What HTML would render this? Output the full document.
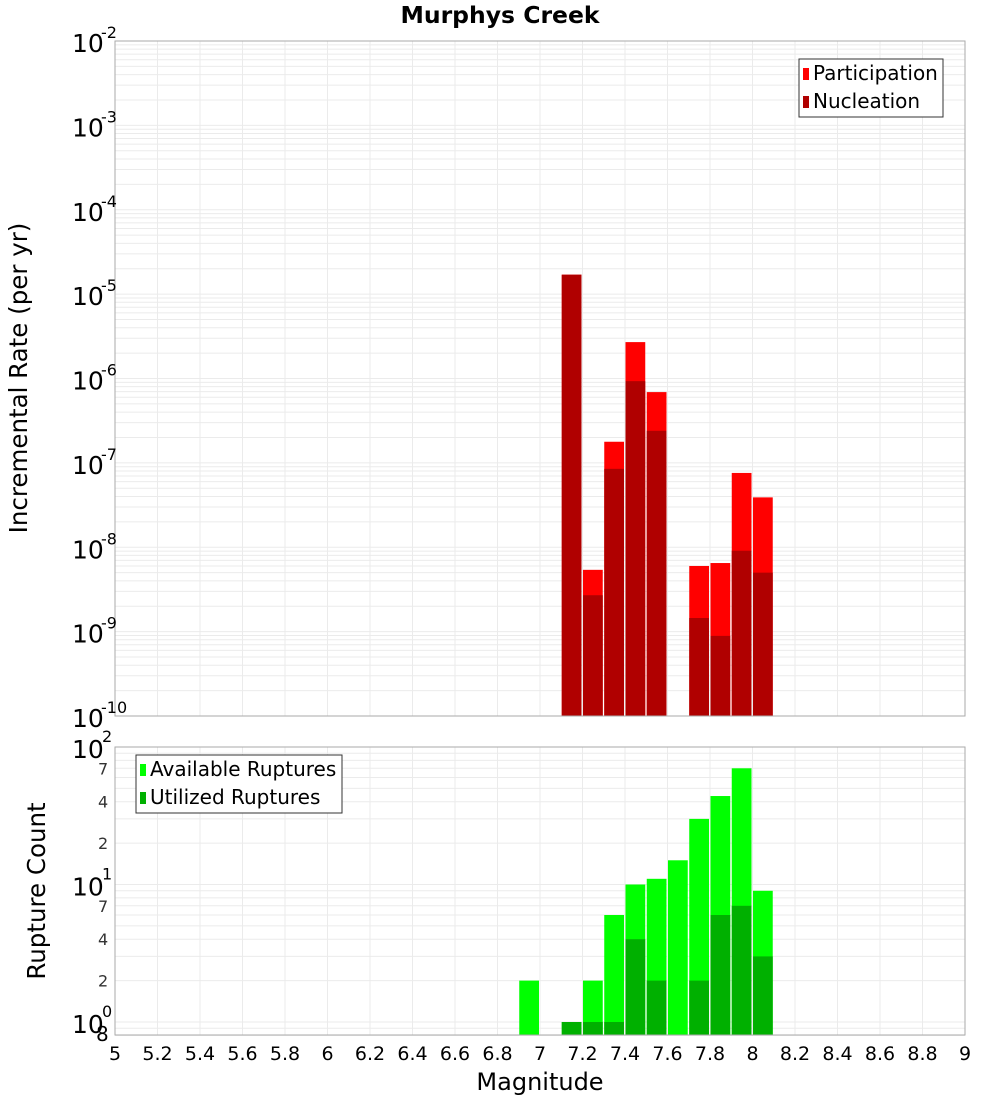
<!DOCTYPE html>
<html><head><meta charset="utf-8">
<style>
body{margin:0;background:#fff;font-family:"DejaVu Sans","Liberation Sans",sans-serif;}
svg text{font-family:"DejaVu Sans","Liberation Sans",sans-serif;}
</style></head>
<body>
<svg id="chart" width="1000" height="1100" xmlns="http://www.w3.org/2000/svg">
<text x="500" y="23" text-anchor="middle" font-size="23.5" font-weight="bold">Murphys Creek</text>
<text transform="translate(27,378) rotate(-90)" text-anchor="middle" font-size="24.5">Incremental Rate (per yr)</text>
<text transform="translate(45,891) rotate(-90)" text-anchor="middle" font-size="24.5">Rupture Count</text>
<text x="540" y="1090" text-anchor="middle" font-size="24">Magnitude</text>
<g id="topPlot"></g>
<g id="botPlot"></g>
</svg>
<script>
const mags = [7.1,7.2,7.3,7.4,7.5,7.7,7.8,7.9,8.0];
const participation = [1.7e-5,5.4e-9,1.78e-7,2.7e-6,6.9e-7,6e-9,6.5e-9,7.6e-8,3.9e-8];
const nucleation = [1.7e-5,2.7e-9,8.5e-8,9.3e-7,2.4e-7,1.45e-9,8.9e-10,9.1e-9,5e-9];
const countMags = [6.9,7.1,7.2,7.3,7.4,7.5,7.6,7.7,7.8,7.9,8.0];
const available = [2,1,2,6,10,11,15,30,44,70,9];
const utilized = [0,1,1,1,4,2,0,2,6,7,3];
const xTicks = [5,5.2,5.4,5.6,5.8,6,6.2,6.4,6.6,6.8,7,7.2,7.4,7.6,7.8,8,8.2,8.4,8.6,8.8,9];

const NS="http://www.w3.org/2000/svg";
const L=115,R=965;
const x=m=>L+(m-5)*(R-L)/4;
const T1=41,B1=716, yTop=v=>T1+(-2-Math.log10(v))*(B1-T1)/8;
const T2=747,B2=1035, yBot=v=>T2+(2-Math.log10(v))*137.5;
function el(p,tag,a){const e=document.createElementNS(NS,tag);for(const k in a)e.setAttribute(k,a[k]);p.appendChild(e);return e;}
const topG=document.getElementById('topPlot'), botG=document.getElementById('botPlot');

for(let d=-10;d<-2;d++)for(let k=1;k<10;k++){const yy=yTop(k*Math.pow(10,d));
 const g=el(topG,'line',{x1:L,x2:R,y1:yy,y2:yy,stroke:'#ebebeb','stroke-width':1});
 
 }
for(let d=-1;d<2;d++)for(let k=1;k<10;k++){const v=k*Math.pow(10,d);if(v<0.8)continue;const yy=yBot(v);
 const g=el(botG,'line',{x1:L,x2:R,y1:yy,y2:yy,stroke:'#ebebeb','stroke-width':1});
 
 }
xTicks.forEach(t=>{[[topG,T1,B1],[botG,T2,B2]].forEach(([p,a,b])=>{
 const g=el(p,'line',{x1:x(t),x2:x(t),y1:a,y2:b,stroke:'#ebebeb','stroke-width':1});
 
 });
 const tx=el(botG,'text',{x:x(t),y:1060,'text-anchor':'middle','font-size':19});tx.textContent=String(t);
 
 });

const bw=(R-L)/40;
mags.forEach((m,i)=>{
 const r=el(topG,'rect',{x:x(m)+0.5,y:yTop(participation[i]),width:bw-1.5,height:B1-yTop(participation[i]),fill:'#ff0000'});
 
 
 const n=el(topG,'rect',{x:x(m)+0.5,y:yTop(nucleation[i]),width:bw-1.5,height:B1-yTop(nucleation[i]),fill:'#b00000'});
 
 });
countMags.forEach((m,i)=>{
 const r=el(botG,'rect',{x:x(m)+0.5,y:yBot(available[i]),width:bw-1.5,height:B2-yBot(available[i]),fill:'#00ff00'});
 
 
 if(utilized[i]>0){const n=el(botG,'rect',{x:x(m)+0.5,y:yBot(utilized[i]),width:bw-1.5,height:B2-yBot(utilized[i]),fill:'#00b000'});
 
 }});

const f1=el(topG,'rect',{x:L,y:T1,width:R-L,height:B1-T1,fill:'none',stroke:'#aaa'});


const f2=el(botG,'rect',{x:L,y:T2,width:R-L,height:B2-T2,fill:'none',stroke:'#aaa'});



for(let d=-10;d<=-2;d++){const yy=yTop(Math.pow(10,d));
 const t=el(topG,'text',{x:72,y:yy+11,'font-size':25});t.textContent='10';
 
 
 const s=el(topG,'text',{x:101,y:yy-3,'font-size':16});s.textContent=String(d);
 
 }
[0,1,2].forEach(d=>{const yy=yBot(Math.pow(10,d));
 const t=el(botG,'text',{x:72,y:yy+11,'font-size':25});t.textContent='10';
 
 
 const s=el(botG,'text',{x:102,y:yy-5,'font-size':16});s.textContent=String(d);
 
 });
[[2,'2'],[4,'4'],[7,'7'],[20,'2'],[40,'4'],[70,'7']].forEach(([v,l])=>{
 const t=el(botG,'text',{x:98,y:yBot(v)+6,'font-size':16,fill:'#333'});t.textContent=l;
 
 });
const e8=el(botG,'text',{x:96,y:1041,'font-size':20});e8.textContent='8';



function legend(p,x0,y0,w,items,name){
 const g=el(p,'g',{});
 
 
 el(g,'rect',{x:x0,y:y0,width:w,height:58,fill:'#fff',stroke:'#333'});
 items.forEach(([c,l],i)=>{el(g,'rect',{x:x0+4,y:y0+9+i*28,width:6,height:12,fill:c});
  const t=el(g,'text',{x:x0+14,y:y0+21+i*28,'font-size':20});t.textContent=l;});
}
legend(topG,799,59,144,[['#ff0000','Participation'],['#b00000','Nucleation']],'top-legend');
legend(botG,136,755,206,[['#00ff00','Available Ruptures'],['#00b000','Utilized Ruptures']],'bottom-legend');
</script>
</body></html>
